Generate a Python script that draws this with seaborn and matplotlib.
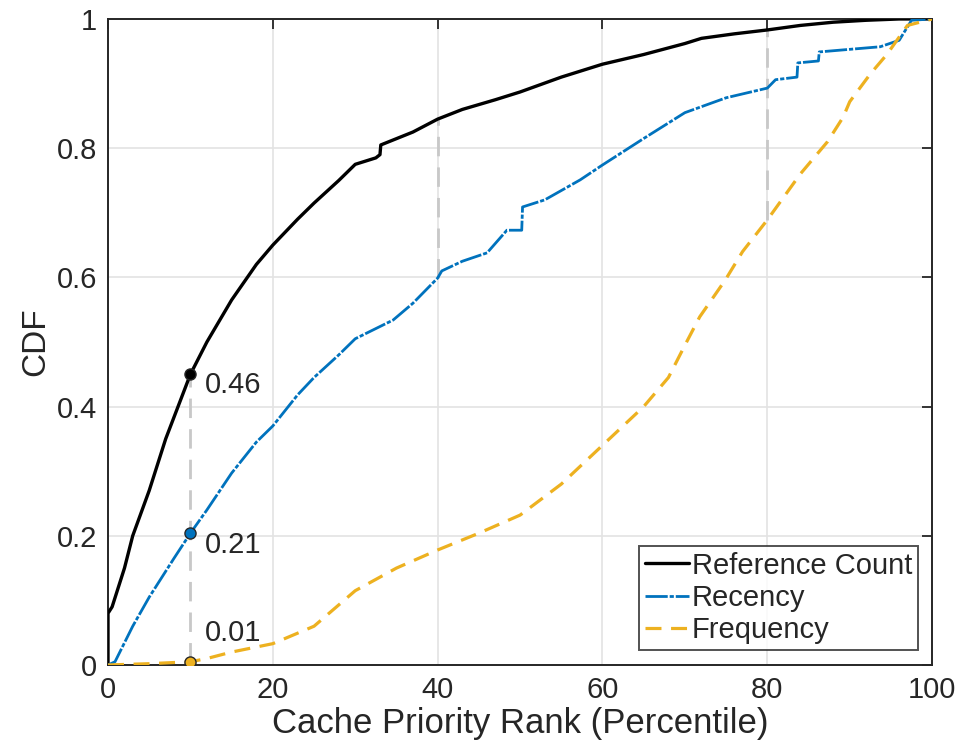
import numpy as np
import pandas as pd
import matplotlib
matplotlib.use("Agg")
import matplotlib.pyplot as plt
import seaborn as sns

# values
rank_ref = [0, 0, 0.5, 1, 2, 3, 5, 7, 10, 12, 15, 18, 20, 23, 25, 28, 30, 32.5, 33, 33.1, 37,
            40, 43, 47, 50, 55, 60, 65, 70, 72, 76, 80, 84, 88, 92, 96, 100]
cdf_ref = [0, 0.08, 0.09, 0.11, 0.15, 0.20, 0.27, 0.35, 0.45, 0.50, 0.565, 0.62, 0.65, 0.69,
           0.715, 0.75, 0.775, 0.785, 0.79, 0.805, 0.825, 0.845, 0.86, 0.875, 0.887, 0.91,
           0.93, 0.945, 0.962, 0.97, 0.977, 0.983, 0.99, 0.995, 0.998, 1.0, 1.0]

rank_rec = [0, 0.85, 3, 5, 8, 10, 12, 15, 18, 20, 23, 25, 28, 30, 34.6, 37, 40, 40.5, 43, 46,
            48.4, 50.2, 50.3, 53, 57.3, 60, 65, 70, 75, 80, 81, 83.6, 83.7, 86.2, 86.3, 93.7,
            96, 97.5, 100]
cdf_rec = [0, 0.005, 0.06, 0.105, 0.165, 0.204, 0.24, 0.297, 0.345, 0.37, 0.418, 0.445, 0.48,
           0.505, 0.534, 0.56, 0.599, 0.61, 0.625, 0.638, 0.673, 0.673, 0.709, 0.72, 0.751,
           0.774, 0.815, 0.855, 0.878, 0.893, 0.906, 0.91, 0.932, 0.935, 0.949, 0.957, 0.967,
           0.998, 1.0]

rank_freq = [0, 5, 10, 12, 15, 20, 25, 30, 35, 40, 45, 50, 55, 60, 65, 68, 70, 71.8, 74.9,
             77, 80, 84, 87.3, 89.2, 90, 92.5, 94.5, 97, 100]
cdf_freq = [0, 0.002, 0.005, 0.01, 0.02, 0.033, 0.06, 0.115, 0.15, 0.178, 0.204, 0.232, 0.28,
            0.34, 0.40, 0.445, 0.495, 0.539, 0.596, 0.64, 0.689, 0.76, 0.81, 0.848, 0.872,
            0.915, 0.945, 0.99, 1.0]

series_names = ["Reference Count", "Recency", "Frequency"]
series_colors = ["#000000", "#0072BD", "#EDB120"]

# highlighted points at the 10th percentile
mark_x = 10
mark_y = [0.45, 0.205, 0.005]
mark_labels = ["0.46", "0.21", "0.01"]
label_y = [0.433, 0.186, 0.05]

# vertical guide lines: x position and which curves they connect
guide_x = [10, 40, 80]
guide_pairs = [("Frequency", "Reference Count"), ("Recency", "Reference Count"),
               ("Frequency", "Reference Count")]

df = pd.concat([
    pd.DataFrame({"rank": rank_ref, "cdf": cdf_ref, "method": "Reference Count"}),
    pd.DataFrame({"rank": rank_rec, "cdf": cdf_rec, "method": "Recency"}),
    pd.DataFrame({"rank": rank_freq, "cdf": cdf_freq, "method": "Frequency"}),
], ignore_index=True)

sns.set_theme(style="white")
plt.rcParams["font.family"] = ["Liberation Sans", "DejaVu Sans"]

fig = plt.figure(figsize=(9.6, 7.56), dpi=100)
ax = fig.add_axes([0.1125, 0.1204, 0.8585, 0.8545])

styles = {
    "Reference Count": dict(lw=2.4, ls="-"),
    "Recency": dict(lw=2.0, ls=(0, (8, 0.7, 1.5, 0.7))),
    "Frequency": dict(lw=2.3, ls=(0, (5, 3))),
}


def value_at(name, x):
    d = df[df["method"] == name]
    return np.interp(x, d["rank"], d["cdf"])


# guide lines first, behind curves
for gx, (lo_name, hi_name) in zip(guide_x, guide_pairs):
    ax.plot([gx, gx], [value_at(lo_name, gx), value_at(hi_name, gx)],
            color="#c8c8c8", lw=2.0, ls=(0, (7, 4)), zorder=1.5)

for name, color in zip(series_names, series_colors):
    sns.lineplot(data=df[df["method"] == name], x="rank", y="cdf", color=color,
                 label=name, estimator=None, sort=False, ax=ax, zorder=3,
                 linewidth=styles[name]["lw"], linestyle=styles[name]["ls"])

for yv, color, txt, ly in zip(mark_y, series_colors, mark_labels, label_y):
    ax.plot(mark_x, yv, "o", ms=8, mfc=color, mec="#262626", mew=1.0, zorder=4)
    ax.text(mark_x + 1.7, ly, txt, fontsize=21, color="#262626", va="center", ha="left")

ax.set_xlim(0, 100)
ax.set_ylim(0, 1)
ax.set_xticks([0, 20, 40, 60, 80, 100])
ax.set_yticks([0, 0.2, 0.4, 0.6, 0.8, 1])
ax.set_yticklabels(["0", "0.2", "0.4", "0.6", "0.8", "1"])
ax.grid(True, color="#e3e3e3", lw=1.2)
ax.set_axisbelow(True)
ax.tick_params(direction="in", length=7, width=1.3, colors="#262626", labelsize=21,
               top=True, right=True, pad=8)
for sp in ax.spines.values():
    sp.set_color("#262626")
    sp.set_linewidth(1.4)

ax.set_xlabel("Cache Priority Rank (Percentile)", fontsize=25, color="#262626", labelpad=2)
ax.set_ylabel("CDF", fontsize=24, color="#262626", labelpad=4)

leg = ax.legend(loc="lower right", bbox_to_anchor=(0.983, 0.023), borderaxespad=0,
                fontsize=21, frameon=True, fancybox=False, edgecolor="#262626",
                handlelength=1.5, handletextpad=0.1, labelspacing=0.15, borderpad=0.2)
leg.get_frame().set_linewidth(1.4)
for t in leg.get_texts():
    t.set_color("#262626")

fig.savefig("out.png", dpi=100)
